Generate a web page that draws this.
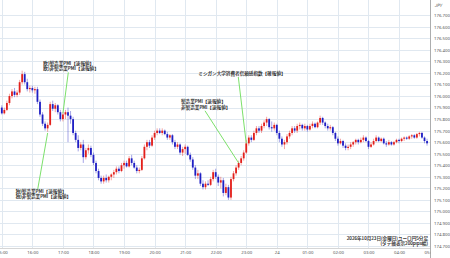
<!DOCTYPE html>
<html>
<head>
<meta charset="utf-8">
<script src="https://cdn.jsdelivr.net/npm/d3@7"></script>
<style>
  html, body { margin: 0; padding: 0; background: #fff; }
  svg { display: block; font-family: "Noto Sans CJK JP", "Noto Sans", sans-serif; }
</style>
</head>
<body>
<div id="chart"></div>
<script>
const startTime = Date.UTC(2026, 9, 23, 15, 0)
const endTime = Date.UTC(2026, 9, 24, 5, 0)
const candleMinutes = 5

const opens = [
  175.90,175.85,175.88,175.94,176.00,176.04,176.01,176.03,176.12,176.19,176.12,176.06,
  176.07,176.05,176.06,175.95,175.84,175.76,175.72,175.75,175.93,175.89,175.92,175.86,
  175.80,175.84,175.86,175.83,175.80,175.68,175.62,175.55,175.58,175.47,175.53,175.55,
  175.49,175.42,175.35,175.29,175.26,175.29,175.27,175.30,175.32,175.34,175.37,175.35,
  175.40,175.42,175.39,175.46,175.42,175.38,175.35,175.36,175.46,175.56,175.60,175.57,
  175.64,175.68,175.70,175.68,175.70,175.67,175.64,175.66,175.60,175.56,175.58,175.51,
  175.54,175.56,175.49,175.45,175.38,175.31,175.33,175.24,175.21,175.24,175.23,175.28,
  175.34,175.30,175.25,175.27,175.16,175.21,175.12,175.28,175.33,175.38,175.42,175.46,
  175.51,175.59,175.64,175.62,175.68,175.72,175.70,175.74,175.77,175.80,175.73,175.72,
  175.75,175.68,175.63,175.58,175.60,175.65,175.68,175.72,175.70,175.74,175.75,175.72,
  175.74,175.71,175.74,175.76,175.73,175.77,175.81,175.77,175.74,175.72,175.73,175.68,
  175.63,175.59,175.61,175.57,175.55,175.56,175.58,175.60,175.62,175.60,175.62,175.64,
  175.61,175.56,175.58,175.61,175.64,175.61,175.63,175.59,175.58,175.60,175.58,175.60,
  175.62,175.61,175.63,175.64,175.63,175.65,175.66,175.64,175.67,175.68,175.64,175.61
]
const highs = [
  175.92,175.90,175.96,176.02,176.06,176.07,176.05,176.14,176.22,176.21,176.15,176.09,
  176.09,176.08,176.08,175.97,175.86,175.78,175.77,175.95,175.96,175.94,175.93,175.88,
  175.86,175.88,175.90,175.87,175.82,175.70,175.66,175.60,175.62,175.55,175.58,175.57,
  175.51,175.44,175.37,175.31,175.31,175.32,175.31,175.33,175.36,175.39,175.39,175.42,
  175.44,175.44,175.48,175.49,175.44,175.40,175.38,175.48,175.58,175.62,175.62,175.66,
  175.70,175.72,175.72,175.72,175.71,175.69,175.67,175.67,175.62,175.60,175.59,175.56,
  175.58,175.57,175.51,175.47,175.40,175.36,175.34,175.27,175.26,175.27,175.30,175.36,
  175.37,175.32,175.30,175.29,175.24,175.23,175.30,175.35,175.40,175.44,175.48,175.53,
  175.62,175.66,175.66,175.70,175.74,175.74,175.76,175.79,175.82,175.81,175.78,175.77,
  175.76,175.70,175.65,175.62,175.67,175.70,175.74,175.74,175.76,175.77,175.76,175.76,
  175.75,175.76,175.78,175.77,175.78,175.83,175.82,175.78,175.76,175.75,175.74,175.69,
  175.65,175.63,175.62,175.59,175.58,175.60,175.61,175.63,175.63,175.64,175.66,175.65,
  175.62,175.60,175.63,175.66,175.65,175.64,175.64,175.61,175.62,175.61,175.61,175.63,
  175.63,175.64,175.65,175.65,175.66,175.67,175.67,175.68,175.69,175.69,175.65,175.63
]
const lows = [
  175.84,175.84,175.87,175.92,175.98,175.99,175.99,176.01,176.10,176.10,176.04,176.03,
  176.03,176.02,175.93,175.82,175.74,175.70,175.69,175.74,175.87,175.86,175.84,175.78,
  175.78,175.80,175.60,175.76,175.66,175.60,175.52,175.53,175.42,175.45,175.50,175.47,
  175.40,175.33,175.27,175.24,175.24,175.25,175.25,175.27,175.29,175.32,175.33,175.34,
  175.37,175.38,175.38,175.40,175.37,175.33,175.33,175.35,175.45,175.53,175.55,175.56,
  175.62,175.66,175.67,175.66,175.66,175.62,175.62,175.58,175.54,175.54,175.49,175.48,
  175.50,175.48,175.43,175.36,175.28,175.28,175.22,175.19,175.19,175.22,175.22,175.26,
  175.28,175.22,175.20,175.13,175.14,175.10,175.10,175.26,175.31,175.36,175.40,175.44,
  175.50,175.57,175.60,175.61,175.66,175.68,175.68,175.72,175.74,175.71,175.69,175.70,
  175.66,175.60,175.56,175.54,175.58,175.63,175.66,175.68,175.68,175.71,175.70,175.70,
  175.69,175.70,175.72,175.72,175.72,175.75,175.75,175.72,175.70,175.70,175.66,175.61,
  175.57,175.58,175.55,175.53,175.53,175.54,175.56,175.58,175.58,175.59,175.60,175.60,
  175.54,175.55,175.57,175.60,175.60,175.60,175.58,175.56,175.57,175.57,175.57,175.59,
  175.59,175.60,175.61,175.62,175.62,175.63,175.63,175.63,175.65,175.63,175.59,175.57
]
const closes = [
  175.85,175.88,175.94,176.00,176.04,176.01,176.03,176.12,176.19,176.12,176.06,176.07,
  176.05,176.06,175.95,175.84,175.76,175.72,175.75,175.93,175.89,175.92,175.86,175.80,
  175.84,175.86,175.83,175.80,175.68,175.62,175.55,175.58,175.47,175.53,175.55,175.49,
  175.42,175.35,175.29,175.26,175.29,175.27,175.30,175.32,175.34,175.37,175.35,175.40,
  175.42,175.39,175.46,175.42,175.38,175.35,175.36,175.46,175.56,175.60,175.57,175.64,
  175.68,175.70,175.68,175.70,175.67,175.64,175.66,175.60,175.56,175.58,175.51,175.54,
  175.56,175.49,175.45,175.38,175.31,175.33,175.24,175.21,175.24,175.23,175.28,175.34,
  175.30,175.25,175.27,175.16,175.21,175.12,175.28,175.33,175.38,175.42,175.46,175.51,
  175.59,175.64,175.62,175.68,175.72,175.70,175.74,175.77,175.80,175.73,175.72,175.75,
  175.68,175.63,175.58,175.60,175.65,175.68,175.72,175.70,175.74,175.75,175.72,175.74,
  175.71,175.74,175.76,175.73,175.77,175.81,175.77,175.74,175.72,175.73,175.68,175.63,
  175.59,175.61,175.57,175.55,175.56,175.58,175.60,175.62,175.60,175.62,175.64,175.61,
  175.56,175.58,175.61,175.64,175.61,175.63,175.59,175.58,175.60,175.58,175.60,175.62,
  175.61,175.63,175.64,175.63,175.65,175.66,175.64,175.67,175.68,175.64,175.61,175.59
]

const yTicks = [
  176.7, 176.6, 176.5, 176.4, 176.3, 176.2, 176.1, 176.0, 175.9, 175.8, 175.7,
  175.6, 175.5, 175.4, 175.3, 175.2, 175.1, 175.0, 174.9, 174.8, 174.7
]
const xTickHours = [15, 16, 17, 18, 19, 20, 21, 22, 23, 24, 25, 26, 27, 28, 29]
const xTickLabels = [
  "15:00", "16:00", "17:00", "18:00", "19:00", "20:00", "21:00", "22:00",
  "23:00", "24", "01:00", "02:00", "03:00", "04:00", "05:00"
]

const eventTimes = [[16, 30], [17, 0], [22, 45], [23, 0]]
const eventPrices = [175.68, 175.85, 175.42, 175.59]
const eventTexts = [
  ["独)製造業PMI【速報値】", "独)非製造業PMI【速報値】"],
  ["欧)製造業PMI【速報値】", "欧)非製造業PMI【速報値】"],
  ["製造業PMI【速報値】", "非製造業PMI【速報値】"],
  ["ミシガン大学消費者信頼感指数【確報値】"]
]
const titleLines = ["2026年10月23日(金曜日)ユーロ円5分足", "(タテ軸表示200pips幅)"]

// label placement for each event (text left, first line y, leader start)
const eventLayout = [
  { tx: 15.7, ty: 191.3, lx: 37.7, ly: 189.3 },
  { tx: 43.3, ty: 63.3, lx: 68.3, ly: 72.4 },
  { tx: 181, ty: 102, lx: 205, ly: 110.8 },
  { tx: 198.3, ty: 73.3, lx: 238.3, ly: 77 }
]

const width = 450
const height = 258
const axisX = 430.5
const axisY = 248
const upColor = "#e3201b"
const downColor = "#1f1fc4"

const hourTime = (h, m = 0) => startTime + ((h - 15) * 60 + m) * 60000
const candles = opens.map((o, i) => ({
  t: startTime + i * candleMinutes * 60000,
  o,
  h: highs[i],
  l: lows[i],
  c: closes[i],
}))

const xScale = d3
  .scaleUtc()
  .domain([startTime, endTime])
  .range([1.8, 429.6])
const yScale = d3
  .scaleLinear()
  .domain([174.7, 176.7])
  .range([246, 15.3])

const svg = d3
  .select("#chart")
  .append("svg")
  .attr("width", width)
  .attr("height", height)

svg
  .append("rect")
  .attr("width", width)
  .attr("height", height)
  .attr("fill", "#fff")

svg
  .append("defs")
  .append("clipPath")
  .attr("id", "plotclip")
  .append("rect")
  .attr("x", 0)
  .attr("y", 0)
  .attr("width", axisX)
  .attr("height", height)

const xTicks = xTickHours.map(h => hourTime(h))

// grid
svg
  .append("g")
  .attr("class", "grid")
  .selectAll("line.h")
  .data(yTicks)
  .enter()
  .append("line")
  .attr("x1", 0)
  .attr("x2", axisX)
  .attr("y1", d => Math.round(yScale(d)) + 0.5)
  .attr("y2", d => Math.round(yScale(d)) + 0.5)
  .attr("stroke", "#e0e8f0")
  .attr("stroke-width", 1)
svg
  .append("g")
  .attr("class", "grid")
  .attr("clip-path", "url(#plotclip)")
  .selectAll("line.v")
  .data(xTicks)
  .enter()
  .append("line")
  .attr("x1", d => Math.round(xScale(d)) + 0.5)
  .attr("x2", d => Math.round(xScale(d)) + 0.5)
  .attr("y1", 0)
  .attr("y2", axisY)
  .attr("stroke", "#e0e8f0")
  .attr("stroke-width", 1)

// candles
const candleG = svg
  .append("g")
  .attr("class", "candles")
  .attr("clip-path", "url(#plotclip)")
const bodyW = 1.8
candleG
  .selectAll("line")
  .data(candles)
  .enter()
  .append("line")
  .attr("x1", d => xScale(d.t))
  .attr("x2", d => xScale(d.t))
  .attr("y1", d => yScale(d.h))
  .attr("y2", d => yScale(d.l))
  .attr("stroke", d => (d.c >= d.o ? upColor : downColor))
  .attr("stroke-opacity", 0.45)
  .attr("stroke-width", 0.9)
candleG
  .selectAll("rect")
  .data(candles)
  .enter()
  .append("rect")
  .attr("x", d => xScale(d.t) - bodyW / 2)
  .attr("width", bodyW)
  .attr("y", d => yScale(Math.max(d.o, d.c)))
  .attr("height", d => Math.max(0.6, Math.abs(yScale(d.o) - yScale(d.c))))
  .attr("fill", d => (d.c >= d.o ? upColor : downColor))

// axes
svg
  .append("g")
  .attr("class", "y axis")
  .attr("transform", `translate(${axisX},0)`)
  .call(
    d3
      .axisRight(yScale)
      .tickValues(yTicks)
      .tickFormat(d3.format(".3f"))
      .tickSize(0)
      .tickPadding(3.5)
  )
  .call(g => g.select(".domain").remove())
  .selectAll("text")
  .attr("font-size", 4.3)
  .attr("fill", "#555")
  .attr("font-family", "'Noto Sans', sans-serif")

svg
  .append("line")
  .attr("x1", axisX)
  .attr("x2", axisX)
  .attr("y1", 0)
  .attr("y2", height)
  .attr("stroke", "#9a9a9a")
  .attr("stroke-width", 0.8)

svg
  .append("text")
  .attr("x", 434.5)
  .attr("y", 6)
  .attr("dominant-baseline", "middle")
  .attr("font-size", 4.3)
  .attr("font-style", "italic")
  .attr("fill", "#555")
  .text("JPY")

svg
  .append("g")
  .attr("class", "x axis")
  .attr("clip-path", "url(#plotclip)")
  .attr("transform", `translate(0,${axisY})`)
  .call(
    d3
      .axisBottom(xScale)
      .tickValues(xTicks)
      .tickFormat((d, i) => xTickLabels[i])
      .tickSize(0)
      .tickPadding(3)
  )
  .call(g =>
    g
      .select(".domain")
      .attr("stroke", "#9a9a9a")
      .attr("stroke-width", 0.8)
      .attr("d", `M0,0H${axisX}`)
  )
  .selectAll("text")
  .attr("font-size", 4.3)
  .attr("fill", "#555")
  .attr("font-family", "'Noto Sans', sans-serif")

// event annotations
const ev = svg.append("g").attr("class", "events")
eventTexts.forEach((lines, i) => {
  const lay = eventLayout[i]
  const [h, m] = eventTimes[i]
  ev.append("line")
    .attr("x1", lay.lx)
    .attr("y1", lay.ly)
    .attr("x2", xScale(hourTime(h, m)))
    .attr("y2", yScale(eventPrices[i]))
    .attr("stroke", "#6ddc5a")
    .attr("stroke-width", 0.9)
  ev.append("text")
    .attr("x", lay.tx)
    .attr("y", lay.ty)
    .attr("font-size", 4.6)
    .attr("fill", "#111")
    .attr("stroke", "#111")
    .attr("stroke-width", 0.12)
    .selectAll("tspan")
    .data(lines)
    .enter()
    .append("tspan")
    .attr("x", lay.tx)
    .attr("y", (t, j) => lay.ty + j * 5.7)
    .attr("dominant-baseline", "middle")
    .text(t => t)
})

// title
svg
  .append("text")
  .attr("font-size", 4.6)
  .attr("fill", "#111")
  .attr("stroke", "#111")
  .attr("stroke-width", 0.1)
  .attr("text-anchor", "end")
  .selectAll("tspan")
  .data(titleLines)
  .enter()
  .append("tspan")
  .attr("x", 428)
  .attr("y", (t, i) => 239 + i * 4.7)
  .attr("dominant-baseline", "middle")
  .text(t => t)
</script>
</body>
</html>
